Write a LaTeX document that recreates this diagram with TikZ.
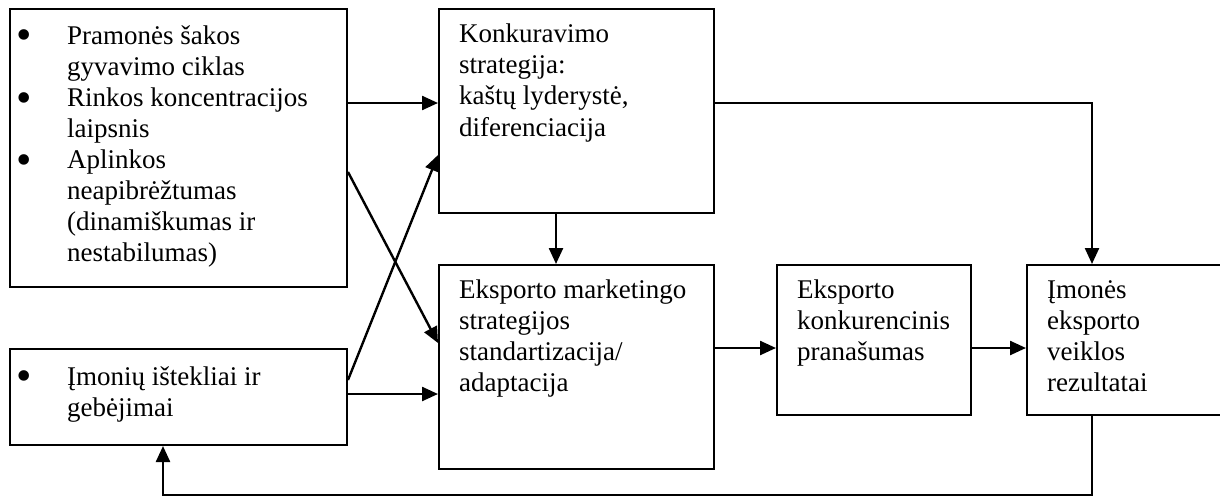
\documentclass[tikz,border=0pt]{standalone}
\usepackage{fontspec}
\setmainfont{Liberation Serif}
\usetikzlibrary{arrows.meta,calc}
\begin{document}
\begin{tikzpicture}[x=1pt,y=-1pt,
  box/.style={draw=black,line width=2pt,rectangle,inner sep=0pt,anchor=north west},
  txt/.style={inner sep=0pt,anchor=base west,font=\fontsize{27pt}{31pt}\selectfont},
  conn/.style={line width=2.4pt,-{Triangle[length=16pt,width=14pt]}},
  bul/.style={inner sep=0pt,anchor=base west,font=\fontsize{44pt}{44pt}\selectfont}]
\useasboundingbox (0,0) rectangle (1220,495);
\clip (0,0) rectangle (1220,495);
\fill[white] (0,0) rectangle (1220,495);
% boxes
\node[box,minimum width=337pt,minimum height=278pt] (A) at (9,8) {};
\node[box,minimum width=275pt,minimum height=204pt] (B) at (438,8) {};
\node[box,minimum width=275pt,minimum height=204pt] (C) at (438,264) {};
\node[box,minimum width=337pt,minimum height=96pt] (D) at (9,348) {};
\node[box,minimum width=194pt,minimum height=150pt] (E) at (776,264) {};
\node[box,minimum width=230pt,minimum height=150pt] (F) at (1026,264) {};
% texts
\node[bul] (a1) at (16,50) {•};
\node[bul] (a2) at (16,112) {•};
\node[bul] (a3) at (16,174) {•};
\node[txt] (at) at (67,45) {\begin{tabular}[t]{@{}l@{}}Pramonės šakos\\gyvavimo ciklas\\Rinkos koncentracijos\\laipsnis\\Aplinkos\\neapibrėžtumas\\(dinamiškumas ir\\nestabilumas)\end{tabular}};
\node[txt] (bt) at (459,43) {\begin{tabular}[t]{@{}l@{}}Konkuravimo\\strategija:\\kaštų lyderystė,\\diferenciacija\end{tabular}};
\node[txt] (ct) at (459,298) {\begin{tabular}[t]{@{}l@{}}Eksporto marketingo\\strategijos\\standartizacija/\\adaptacija\end{tabular}};
\node[bul] (d1) at (16,390) {•};
\node[txt] (dt) at (67,385) {\begin{tabular}[t]{@{}l@{}}Įmonių ištekliai ir\\gebėjimai\end{tabular}};
\node[txt] (et) at (797,298) {\begin{tabular}[t]{@{}l@{}}Eksporto\\konkurencinis\\pranašumas\end{tabular}};
\node[txt] (ft) at (1047,298) {\begin{tabular}[t]{@{}l@{}}Įmonės\\eksporto\\veiklos\\rezultatai\end{tabular}};
% connectors
\draw[conn] ($(A.north east)+(0,95)$) -- ($(B.north west)+(0,95)$);
\draw[conn] ($(A.north east)+(0,164)$) -- ($(C.north west)+(0,79)$);
\draw[conn] ($(D.north east)+(0,32)$) -- ($(B.north west)+(0,147)$);
\draw[conn] ($(D.north east)+(0,46)$) -- ($(C.north west)+(0,130)$);
\draw[conn] ($(B.south west)+(118,0)$) -- ($(C.north west)+(118,0)$);
\coordinate (bf) at ($(F.north west)+(66,-161)$);
\draw[conn] ($(B.north east)+(0,95)$) -- (bf) -- ($(F.north west)+(66,0)$);
\draw[conn] ($(C.north east)+(0,84)$) -- ($(E.north west)+(0,84)$);
\draw[conn] ($(E.north east)+(0,84)$) -- ($(F.north west)+(0,84)$);
\coordinate (fb1) at ($(F.south west)+(66,79)$);
\coordinate (fb2) at ($(D.south west)+(154,49)$);
\draw[conn] ($(F.south west)+(66,0)$) -- (fb1) -- (fb2) -- ($(D.south west)+(154,0)$);
\end{tikzpicture}
\end{document}
